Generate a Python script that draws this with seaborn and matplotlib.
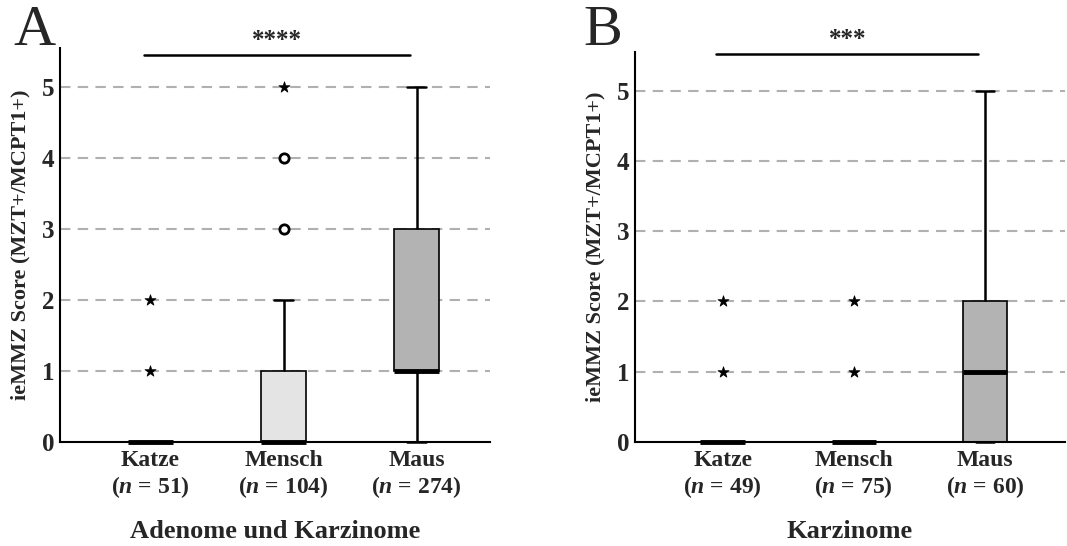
import numpy as np
import pandas as pd
import seaborn as sns
import matplotlib
matplotlib.use("Agg")
import matplotlib.pyplot as plt

# score levels 0..5 and number of tumours per level
SCORES = [0, 1, 2, 3, 4, 5]
SPECIES = ["Katze", "Mensch", "Maus"]

# Panel A: Adenome und Karzinome
A_N = [51, 104, 274]
A_KATZE = [49, 1, 1, 0, 0, 0]
A_MENSCH = [60, 30, 11, 1, 1, 1]
A_MAUS = [30, 120, 40, 50, 20, 14]

# Panel B: Karzinome
B_N = [49, 75, 60]
B_KATZE = [47, 1, 1, 0, 0, 0]
B_MENSCH = [73, 1, 1, 0, 0, 0]
B_MAUS = [16, 20, 12, 6, 4, 2]

BOX_COLORS = {"Katze": "#ffffff", "Mensch": "#e4e4e4", "Maus": "#b3b3b3"}

sns.set_theme(style="white")
plt.rcParams["font.family"] = ["Liberation Serif", "DejaVu Serif"]
plt.rcParams["mathtext.fontset"] = "custom"
plt.rcParams["mathtext.it"] = "Liberation Serif:italic:bold"
plt.rcParams["mathtext.rm"] = "Liberation Serif:bold"


def long_table(counts):
    rows = []
    for sp, c in zip(SPECIES, counts):
        for s, k in zip(SCORES, c):
            rows += [(sp, s)] * k
    return pd.DataFrame(rows, columns=["species", "score"])


def outliers(df):
    # SPSS style: circles beyond 1.5 IQR, stars beyond 3 IQR
    circ, star = [], []
    for sp in SPECIES:
        v = df.loc[df.species == sp, "score"].to_numpy()
        q1, q3 = np.percentile(v, [25, 75])
        iqr = q3 - q1
        for s in np.unique(v):
            d = max(s - q3, q1 - s)
            if d > 3 * iqr:
                star.append((sp, s))
            elif d > 1.5 * iqr:
                circ.append((sp, s))
    return (pd.DataFrame(circ, columns=["species", "score"]),
            pd.DataFrame(star, columns=["species", "score"]))


def panel(ax, counts, ns, xlabel, sig, xlim, bar_y, sig_y):
    df = long_table(counts)
    for y in range(1, 6):
        ax.axhline(y, color="#b0b0b0", lw=1.5, ls=(0, (5, 3.5)), zorder=0)
    sns.boxplot(data=df, x="species", y="score", hue="species", order=SPECIES,
                palette=BOX_COLORS, legend=False, width=0.34, showfliers=False,
                whis=1.5, capwidths=0.14, ax=ax,
                boxprops=dict(edgecolor="black", linewidth=1.2),
                whiskerprops=dict(color="black", linewidth=1.8),
                capprops=dict(color="black", linewidth=1.8),
                medianprops=dict(color="black", linewidth=3.5))
    circ, star = outliers(df)
    if len(circ):
        sns.scatterplot(data=circ, x="species", y="score", marker="o", s=45,
                        facecolor="white", edgecolor="black", linewidth=2,
                        ax=ax, zorder=4)
    if len(star):
        sns.scatterplot(data=star, x="species", y="score", marker="*", s=70,
                        color="black", edgecolor="black", linewidth=0.5,
                        ax=ax, zorder=4)
    for art in ax.lines + ax.patches + ax.collections:
        art.set_clip_on(False)

    ax.set_xlim(*xlim)
    ax.set_ylim(0, 5.55)
    ax.set_yticks(range(6))
    ax.set_yticklabels([str(i) for i in range(6)], fontsize=18, fontweight="bold")
    ax.set_xticks(range(3))
    ax.set_xticklabels([f"{sp}\n($n$ = {n})" for sp, n in zip(SPECIES, ns)],
                       fontsize=17, fontweight="bold", linespacing=1.15)
    ax.tick_params(axis="both", length=0)
    ax.tick_params(axis="x", pad=6)
    ax.tick_params(axis="y", pad=4)
    ax.set_xlabel(xlabel, fontsize=19, fontweight="bold", labelpad=14)
    ax.set_ylabel("ieMMZ Score (MZT+/MCPT1+)", fontsize=16, fontweight="bold",
                  labelpad=8)
    for side in ["top", "right"]:
        ax.spines[side].set_visible(False)
    for side in ["left", "bottom"]:
        ax.spines[side].set_color("black")
        ax.spines[side].set_linewidth(1.5)

    # significance bar Katze vs Maus
    ax.plot([-0.05, 1.95], [bar_y, bar_y], color="black", lw=1.8, clip_on=False)
    ax.text(0.95, sig_y, sig, ha="center", va="center", fontsize=18,
            fontweight="bold", clip_on=False)


fig = plt.figure(figsize=(10.67, 5.46), dpi=100)
ax1 = fig.add_axes([0.0562, 0.1905, 0.403, 0.7215])
ax2 = fig.add_axes([0.595, 0.1905, 0.403, 0.7145])
panel(ax1, [A_KATZE, A_MENSCH, A_MAUS], A_N, "Adenome und Karzinome",
      "****", (-0.68, 2.55), 5.45, 5.66)
panel(ax2, [B_KATZE, B_MENSCH, B_MAUS], B_N, "Karzinome",
      "***", (-0.67, 2.61), 5.52, 5.72)
fig.text(13 / 1067, 1 - 45 / 546, "A", fontsize=42, ha="left", va="baseline")
fig.text(583 / 1067, 1 - 45 / 546, "B", fontsize=42, ha="left", va="baseline")
fig.savefig("out.png", dpi=100)
